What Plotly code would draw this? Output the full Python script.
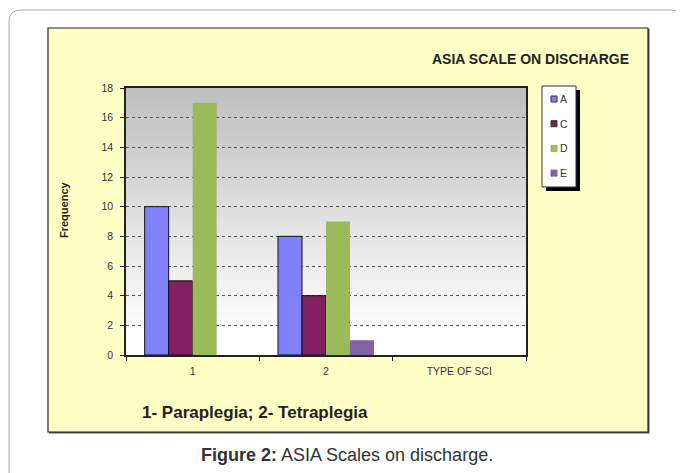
import plotly.graph_objects as go

# ---- data ----
categories = ["1", "2", "TYPE OF SCI"]
series_names = ["A", "C", "D", "E"]
values_A = [10, 8, None]
values_C = [5, 4, None]
values_D = [17, 9, None]
values_E = [0, 1, None]
y_ticks = [0, 2, 4, 6, 8, 10, 12, 14, 16, 18]

colors = {"A": "#8080FF", "C": "#802060", "D": "#9BBB59", "E": "#8064A2"}
outline_w = {"A": 1, "C": 1, "D": 0, "E": 0}
series_values = {"A": values_A, "C": values_C, "D": values_D, "E": values_E}

OFF = 8  # page body margin
W, H = 684 - OFF, 473 - OFF
L, R, T, B = 126 - OFF, 526 - OFF, 88 - OFF, 355 - OFF  # plot area in figure px
FONT = "Liberation Sans, Arial, sans-serif"


def px(x):
    # x given in page pixels
    return (x - OFF - L) / (R - L)


def py(y):
    return (B - (y - OFF)) / (B - T)


fig = go.Figure()
for name in series_names:
    fig.add_trace(go.Bar(
        x=categories, y=series_values[name], name=name,
        marker=dict(color=colors[name], line=dict(color="#111111", width=outline_w[name])),
        showlegend=False,
    ))

shapes = []
# outer rounded frame
x0, y0, x1, y1, r = 9, 10, 683, 520, 12
path = (f"M {px(x0+r)},{py(y0)} L {px(x1-r)},{py(y0)} "
        f"Q {px(x1)},{py(y0)} {px(x1)},{py(y0+r)} "
        f"L {px(x1)},{py(y1)} L {px(x0)},{py(y1)} L {px(x0)},{py(y0+r)} "
        f"Q {px(x0)},{py(y0)} {px(x0+r)},{py(y0)} Z")
shapes.append(dict(type="path", xref="paper", yref="paper", path=path,
                   line=dict(color="#AAAAAA", width=1), fillcolor="white", layer="below"))
# yellow panel shadow + panel
shapes.append(dict(type="rect", xref="paper", yref="paper", x0=px(49), x1=px(649.5), y0=py(29), y1=py(433.5),
                   line=dict(width=0), fillcolor="#555555", layer="below"))
shapes.append(dict(type="rect", xref="paper", yref="paper", x0=px(48), x1=px(648), y0=py(28), y1=py(432),
                   line=dict(color="#222222", width=1.2), fillcolor="#FFFFC6", layer="below"))
# plot-area gradient (gray at top -> white at bottom)
N = 60
for i in range(N):
    f = min(1.0, i / (N * 0.92))
    c = int(round(0xBF + (0xFF - 0xBF) * f))
    ya = i / N
    yb = (i + 1) / N
    shapes.append(dict(type="rect", xref="paper", yref="paper", x0=0, x1=1,
                       y0=1 - yb - 0.002, y1=1 - ya,
                       line=dict(width=0), fillcolor=f"rgb({c},{c},{c})", layer="below"))

# legend (shadow, box, items)
lx0, lx1, ly0, ly1 = 542, 576, 86, 187
shapes.append(dict(type="rect", xref="paper", yref="paper", x0=px(lx0 + 4), x1=px(lx1 + 4), y0=py(ly1 + 4), y1=py(ly0 + 4),
                   line=dict(width=0), fillcolor="black", layer="above"))
shapes.append(dict(type="rect", xref="paper", yref="paper", x0=px(lx0), x1=px(lx1), y0=py(ly1), y1=py(ly0),
                   line=dict(color="#333333", width=1), fillcolor="white", layer="above"))
annotations = []
for i, name in enumerate(series_names):
    cy = 99 + 24.7 * i
    shapes.append(dict(type="rect", xref="paper", yref="paper", x0=px(551), x1=px(557), y0=py(cy + 3), y1=py(cy - 3),
                       line=dict(color="#333333" if outline_w[name] else colors[name], width=1),
                       fillcolor=colors[name], layer="above"))
    annotations.append(dict(xref="paper", yref="paper", x=px(558), y=py(cy), text=name, showarrow=False,
                            xanchor="left", yanchor="middle", font=dict(family=FONT, size=10.5, color="#333333")))

annotations += [
    dict(xref="paper", yref="paper", x=px(530), y=py(59), text="<b>ASIA SCALE ON DISCHARGE</b>", showarrow=False,
         xanchor="center", yanchor="middle", font=dict(family=FONT, size=14, color="#222222")),
    dict(xref="paper", yref="paper", x=px(64), y=py(210), text="<b>Frequency</b>", showarrow=False, textangle=-90,
         xanchor="center", yanchor="middle", font=dict(family=FONT, size=11, color="#222222")),
    dict(xref="paper", yref="paper", x=px(140), y=py(412), text="<b>1- Paraplegia; 2- Tetraplegia</b>", showarrow=False,
         xanchor="left", yanchor="middle", font=dict(family=FONT, size=17, color="#222222")),
    dict(xref="paper", yref="paper", x=px(347), y=py(455), text="<b>Figure 2:</b> ASIA Scales on discharge.",
         showarrow=False, xanchor="center", yanchor="middle", font=dict(family=FONT, size=18, color="#333333")),
]

fig.update_layout(
    width=W, height=H,
    margin=dict(l=L, r=W - R, t=T, b=H - B, pad=0),
    paper_bgcolor="white", plot_bgcolor="rgba(0,0,0,0)",
    barmode="group", bargap=0.28, bargroupgap=0,
    showlegend=False,
    shapes=shapes, annotations=annotations,
    font=dict(family=FONT, size=10.5, color="#333333"),
)
fig.update_xaxes(
    type="category", categoryorder="array", categoryarray=categories, range=[-0.5, 2.5],
    showgrid=False, showline=True, linecolor="#222222", linewidth=1.5, mirror=True,
    ticks="outside", tickson="boundaries", ticklen=4, tickcolor="#222222",
    ticklabelstandoff=6, tickfont=dict(family=FONT, size=10.5, color="#333333"),
)
fig.update_yaxes(
    range=[0, 18], tickvals=y_ticks, showgrid=True, gridcolor="#555555", griddash="dot", gridwidth=1,
    showline=True, linecolor="#222222", linewidth=1.5, mirror=True, zeroline=False,
    ticks="outside", ticklen=4, tickcolor="#222222", ticklabelstandoff=5,
    tickfont=dict(family=FONT, size=10.5, color="#333333"),
)

fig.write_html("out.html")
